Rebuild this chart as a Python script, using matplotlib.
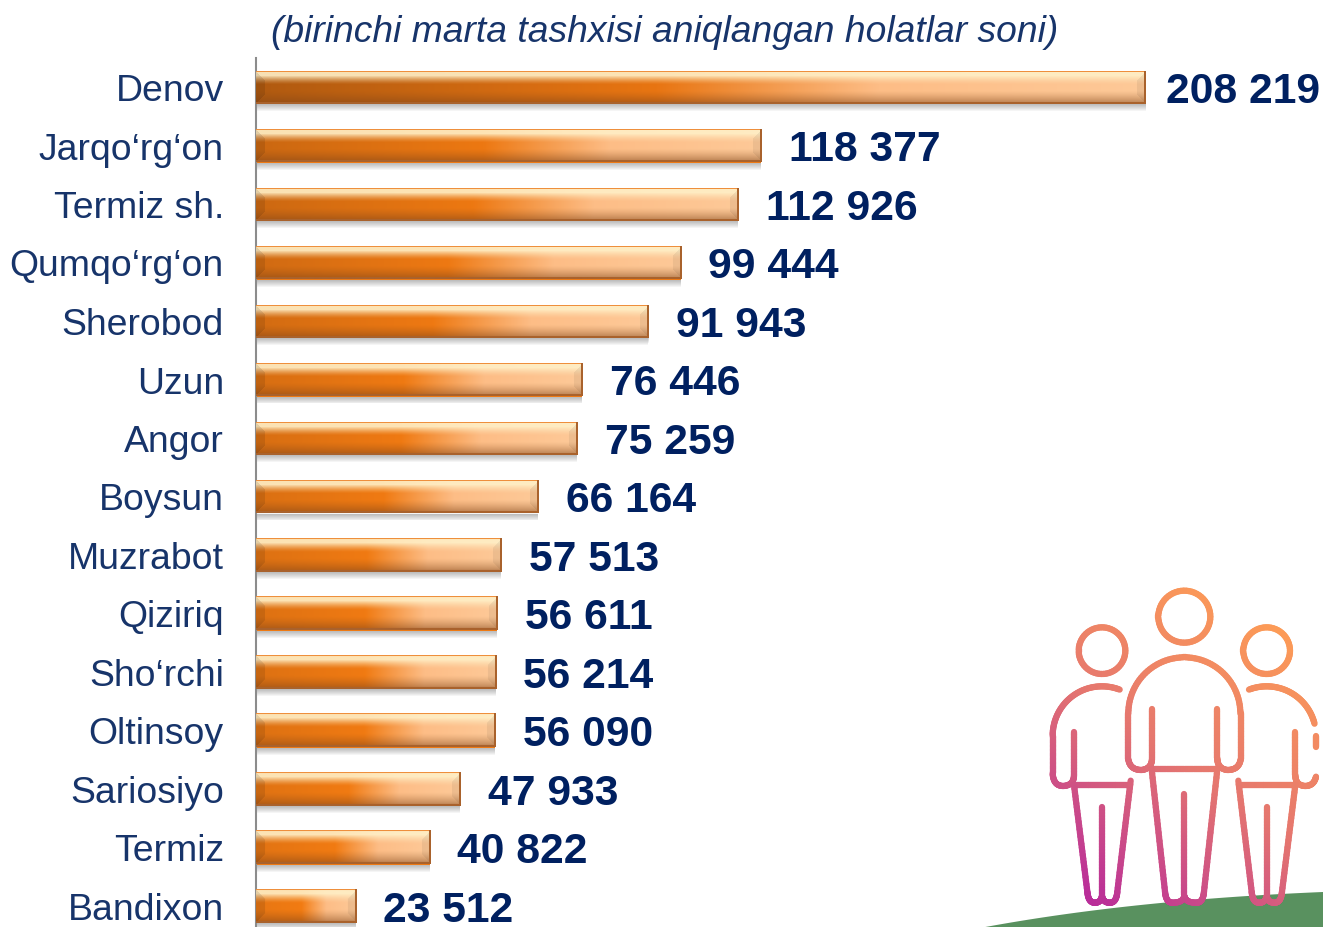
import numpy as np
import matplotlib
matplotlib.use("Agg")
import matplotlib.pyplot as plt
from matplotlib.collections import LineCollection
from matplotlib.colors import to_rgb

plt.rcParams["font.family"] = ["Liberation Sans", "DejaVu Sans"]

W, H = 1323, 927
TITLE = "(birinchi marta tashxisi aniqlangan holatlar soni)"
districts = ["Denov", "Jarqo‘rg‘on", "Termiz sh.", "Qumqo‘rg‘on", "Sherobod", "Uzun", "Angor",
             "Boysun", "Muzrabot", "Qiziriq", "Sho‘rchi", "Oltinsoy", "Sariosiyo", "Termiz", "Bandixon"]
cases = [208219, 118377, 112926, 99444, 91943, 76446, 75259,
         66164, 57513, 56611, 56214, 56090, 47933, 40822, 23512]

NAVY = "#002060"
LABEL = "#17346a"
BAR_H = 33 / 58.5


def bar_image(w_px, h_px=33):
    # horizontal orange ramp, then the bevel on top of it
    u = np.linspace(0, 1, w_px)
    dark = np.clip(w_px / 890, 0, 1)
    stops = [0, 0.45, 0.7, 1]
    left = np.array(to_rgb("#ee7a14")) * (1 - dark) + np.array(to_rgb("#b05a10")) * dark
    mid = np.array(to_rgb("#f37c12")) * (1 - dark) + np.array(to_rgb("#e87512")) * dark
    cols = np.array([left, mid, to_rgb("#fdbd86"), to_rgb("#fdc998")])
    base = np.stack([np.interp(u, stops, cols[:, k]) for k in range(3)], axis=1)
    img = np.repeat(base[None, :, :], h_px, axis=0)
    hi = np.array([1, 0.94, 0.78])
    lo = np.array([0.50, 0.27, 0.10])
    for r in range(h_px):
        if r < 13:
            k = 0.9 * min(1, (13 - r) / 9) ** 1.4
            img[r] = img[r] * (1 - k) + hi * k
        if r > h_px - 14:
            k = 0.55 * ((r - (h_px - 14)) / 13) ** 1.3
            img[r] = img[r] * (1 - k) + lo * k
    # corner bevels at both ends
    for r in range(h_px):
        d = min(r, h_px - 1 - r, 9)
        img[r, :d] = img[r, :d] * 0.9
        img[r, w_px - d:] = img[r, w_px - d:] * 0.94
    img[0] = to_rgb("#ee8f3c")
    img[-1] = img[-2] = to_rgb("#a9622c")
    img[:, -2:] = to_rgb("#a9622c")
    return img


def bez(p0, c, p1, n=24):
    t = np.linspace(0, 1, n)[:, None]
    p0, c, p1 = map(np.asarray, (p0, c, p1))
    return (1 - t) ** 2 * p0 + 2 * t * (1 - t) * c + t ** 2 * p1


def arc(cx, cy, r, a0, a1, n=60):
    a = np.radians(np.linspace(a0, a1, n))
    return np.c_[cx + r * np.cos(a), cy + r * np.sin(a)]


def stroke(ax, pts):
    # zoom-crop coordinates -> page pixels, with the magenta to orange diagonal ramp
    pts = np.asarray(pts, dtype=float)
    if len(pts) == 2:
        a = np.linspace(0, 1, 30)[:, None]
        pts = pts[0] * (1 - a) + pts[1] * a
    t = ((pts[:, 0] - 270) * 580 + (1000 - pts[:, 1]) * 830) / (580 ** 2 + 830 ** 2)
    t = np.clip((t[:-1] + t[1:]) / 2, 0, 1)[:, None]
    c0, c1, c2 = map(np.array, (to_rgb("#b82c9a"), to_rgb("#e5766f"), to_rgb("#fd9c56")))
    cols = np.where(t < 0.5, c0 + (c1 - c0) * t * 2, c1 + (c2 - c1) * (t - 0.5) * 2)
    xy = pts / 3 + [1000, 570]
    segs = np.stack([xy[:-1], xy[1:]], axis=1)
    ax.add_collection(LineCollection(segs, colors=cols, linewidths=4.5, capstyle="round", zorder=3))


def legs(ax, xl, xc, xr, ytop, top2=None):
    top2 = ytop if top2 is None else top2
    stroke(ax, [(xl, ytop), (xl + 40, 965)])
    stroke(ax, bez((xl + 40, 965), (xl + 43, 1000), (xl + 64, 998)))
    stroke(ax, bez((xl + 64, 998), (xc - 4, 998), (xc, 978)))
    stroke(ax, bez((xc, 978), (xc + 4, 998), (xr - 64, 998)))
    stroke(ax, bez((xr - 64, 998), (xr - 43, 1000), (xr - 40, 965)))
    stroke(ax, [(xr - 40, 965), (xr, top2)])


fig = plt.figure(figsize=(W / 100, H / 100), dpi=100, facecolor="white")
ax = fig.add_axes([255.5 / W, 0, (W - 255.5) / W, (H - 58) / H])
x_max = (W - 255.5) / 890 * cases[0]
ax.set_xlim(0, x_max)
ax.set_ylim((927 - 87.5) / 58.5, -(87.5 - 58) / 58.5)
px = (W - 255.5) / x_max
y_px = 1 / 58.5

for i, v in enumerate(cases):
    # soft shadow under the bar
    for k in range(1, 8):
        ax.barh(i + BAR_H / 2 + k * y_px / 2, v + 3 - k * 0.4, height=k * y_px, color="black",
                alpha=0.04, linewidth=0, zorder=1)
    ax.barh(i, v, height=BAR_H, color="#ee7a14", linewidth=0, zorder=2)
    ax.imshow(bar_image(int(round(v * px))), extent=(0, v, i + BAR_H / 2, i - BAR_H / 2),
              aspect="auto", interpolation="bilinear", zorder=3)
    pad = 14.8 if i == 0 else 19.8
    ax.annotate(f"{v:,}".replace(",", " "), (v, i), xytext=(pad, -3), textcoords="offset points",
                va="center", ha="left", fontsize=30.7, fontweight="bold", color=NAVY)

ax.set_xlim(0, x_max)
ax.set_ylim((927 - 87.5) / 58.5, -(87.5 - 58) / 58.5)
ax.set_yticks(range(len(districts)), districts, fontsize=26.9, color=LABEL)
ax.tick_params(axis="y", length=0, pad=22.8)
ax.set_xticks([])
for side in ["top", "right", "bottom"]:
    ax.spines[side].set_visible(False)
ax.spines["left"].set_color("#8c8c8c")
ax.spines["left"].set_linewidth(1.5)
ax.patch.set_alpha(0)

# page-level furniture: title, green hill, people icon
page = fig.add_axes([0, 0, 1, 1], zorder=-1)
page.set_xlim(0, W)
page.set_ylim(H, 0)
page.axis("off")
page.text(665, 32, TITLE, ha="center", va="center", fontsize=26.8, style="italic", color=LABEL)

deco = fig.add_axes([0, 0, 1, 1], zorder=5)
deco.set_xlim(0, W)
deco.set_ylim(H, 0)
deco.axis("off")
hill = bez((980, 928), (1130, 900), (1323, 892), 40)
deco.fill(np.r_[hill[:, 0], W], np.r_[hill[:, 1], H + 1], color="#59915f", linewidth=0, zorder=1)

# centre figure
stroke(deco, arc(553, 140, 78, 0, 360))
stroke(deco, arc(553, 430, 168, 180, 360))
stroke(deco, [(385, 430), (385, 568)])
stroke(deco, [(722, 430), (722, 568)])
stroke(deco, bez((385, 568), (390, 600), (425, 600)))
stroke(deco, bez((425, 600), (456, 596), (456, 565)))
stroke(deco, [(456, 565), (456, 417)])
stroke(deco, bez((722, 568), (717, 600), (682, 600)))
stroke(deco, bez((682, 600), (652, 596), (652, 565)))
stroke(deco, [(652, 565), (652, 417)])
stroke(deco, [(455, 598), (652, 598)])
legs(deco, 455, 553, 652, 598)
stroke(deco, [(553, 672), (553, 975)])

# left figure
stroke(deco, arc(306, 242, 70, 0, 360))
stroke(deco, arc(306, 497, 148, -69, -180))
stroke(deco, [(158, 497), (158, 610)])
stroke(deco, bez((158, 610), (160, 648), (190, 648)))
stroke(deco, bez((190, 648), (222, 646), (222, 615)))
stroke(deco, [(222, 615), (222, 487)])
stroke(deco, [(222, 645), (390, 645)])
legs(deco, 222, 306, 392, 645, 632)
stroke(deco, [(306, 710), (306, 978)])

# right figure
stroke(deco, arc(800, 242, 70, 0, 360))
stroke(deco, arc(800, 497, 148, -111, -14))
stroke(deco, [(948, 497), (948, 532)])
stroke(deco, bez((948, 620), (942, 648), (915, 648)))
stroke(deco, bez((915, 648), (886, 646), (886, 615)))
stroke(deco, [(886, 615), (886, 487)])
stroke(deco, [(718, 645), (886, 645)])
legs(deco, 715, 800, 886, 632, 645)
stroke(deco, [(800, 710), (800, 978)])

fig.savefig("out.png", dpi=100)
